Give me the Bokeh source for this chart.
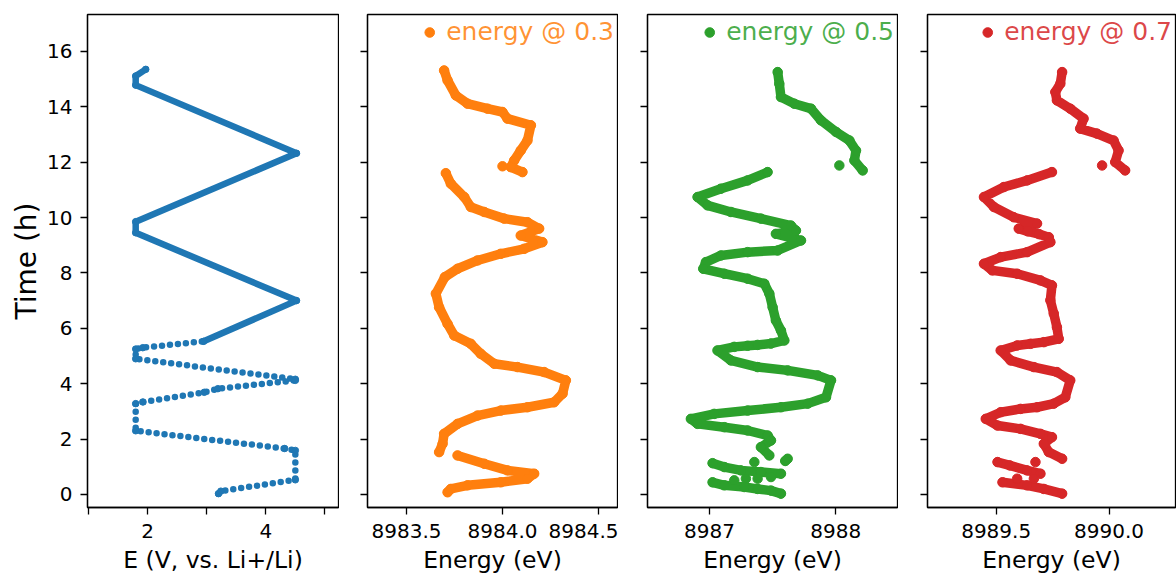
import math
from bokeh.plotting import figure
from bokeh.layouts import row
from bokeh.models import (Range1d, FixedTicker, PrintfTickFormatter, Legend, LegendItem, ColumnDataSource,
                          CustomJSTickFormatter, Title)
from bokeh.embed import file_html
from bokeh.resources import INLINE

nan = float("nan")

# ---------------- data ----------------
time_ticks = [0, 2, 4, 6, 8, 10, 12, 14, 16]

# panel 1: cell potential vs time (vertices)
cv_time = [0.03, 0.12, 0.53, 1.59, 1.66, 2.30, 3.28, 3.34, 3.69, 3.82, 4.12, 4.16, 4.90, 5.25, 5.30, 5.53,
           7.00, 9.45, 9.85, 12.32, 14.78, 15.11, 15.35]
cv_potential = [3.20, 3.24, 4.50, 4.50, 4.32, 1.80, 1.80, 1.92, 2.96, 3.19, 4.50, 4.50, 1.80, 1.80, 1.92, 2.95,
                4.52, 1.80, 1.80, 4.52, 1.80, 1.80, 1.97]
cv_major_ticks = [2, 4]
cv_minor_ticks = [1, 3, 5]

# panel 2: energy @ 0.3
t_03 = [15.31, 14.95, 14.41, 14.11, 13.93, 13.81, 13.57, 13.33, 12.78, 12.42, 12.06, 11.82, 11.64, nan,
        11.85, nan,
        11.60, 11.22, 10.74, 10.38, 10.20, 9.96, 9.83, 9.60, 9.35, 9.11, 8.87, 8.69, 8.45, 8.15, 7.85, 7.25,
        6.76, 6.16, 5.74, 5.44, 5.08, 4.72, 4.60, 4.42, 4.12, 3.64, 3.33, 3.15, 3.03, 2.85, 2.55, 2.19,
        1.83, 1.53, nan,
        1.41, 1.11, 0.87, 0.75, 0.57, 0.44, 0.33, 0.20, 0.08]
e_03 = [8983.696, 8983.714, 8983.757, 8983.818, 8983.922, 8984.000, 8984.026, 8984.148, 8984.130, 8984.095,
        8984.061, 8984.043, 8984.104, nan,
        8984.000, nan,
        8983.705, 8983.731, 8983.801, 8983.835, 8983.905, 8984.009, 8984.130, 8984.191, 8984.095, 8984.208,
        8984.113, 8983.991, 8983.870, 8983.766, 8983.700, 8983.653, 8983.670, 8983.714, 8983.749, 8983.835,
        8983.887, 8983.957, 8984.078, 8984.217, 8984.330, 8984.313, 8984.269, 8984.130, 8983.991, 8983.870,
        8983.766, 8983.696, 8983.688, 8983.670, nan,
        8983.766, 8983.905, 8984.026, 8984.165, 8984.130, 8983.991, 8983.818, 8983.731, 8983.714]
ticks_03 = [8983.5, 8984.0, 8984.5]

# panel 3: energy @ 0.5
t_05 = [15.25, 14.83, 14.35, 14.11, 13.93, 13.51, 13.09, 12.78, 12.42, 12.06, 11.70, nan,
        11.88, nan,
        11.64, 11.34, 11.04, 10.74, 10.44, 10.20, 9.96, 9.71, 9.53, 9.41, 9.17, 8.81, 8.75, 8.63, 8.39, 8.15,
        7.97, 7.79, 7.61, 7.25, 6.76, 6.28, 5.92, 5.56, 5.45, 5.40, 5.37, 5.33, 5.20, 4.84, 4.60, 4.48, 4.30,
        4.12, 3.51, 3.28, 3.15, 3.03, 2.91, 2.73, 2.55, 2.43, 2.31, 2.13, 1.95, 1.71, 1.41, nan,
        1.29, 1.21, nan, 1.17, nan,
        1.13, 0.99, 0.87, 0.81, 0.75, nan,
        0.51, nan, 0.57, nan, 0.57, nan, 0.63, nan,
        0.44, 0.33, 0.27, 0.20, 0.14, 0.03]
e_05 = [8987.540, 8987.553, 8987.566, 8987.672, 8987.804, 8987.883, 8988.003, 8988.109, 8988.161, 8988.148,
        8988.214, nan,
        8988.029, nan,
        8987.460, 8987.302, 8987.090, 8986.905, 8986.984, 8987.169, 8987.407, 8987.645, 8987.685, 8987.526,
        8987.725, 8987.540, 8987.302, 8987.090, 8986.971, 8986.950, 8987.117, 8987.302, 8987.434, 8987.474,
        8987.500, 8987.526, 8987.566, 8987.593, 8987.487, 8987.381, 8987.302, 8987.196, 8987.063, 8987.169,
        8987.381, 8987.619, 8987.857, 8987.963, 8987.923, 8987.778, 8987.566, 8987.302, 8987.037, 8986.852,
        8986.905, 8987.117, 8987.302, 8987.460, 8987.487, 8987.407, 8987.474, nan,
        8987.619, 8987.600, nan, 8987.355, nan,
        8987.024, 8987.117, 8987.249, 8987.407, 8987.566, nan,
        8987.196, nan, 8987.288, nan, 8987.381, nan, 8987.487, nan,
        8987.024, 8987.117, 8987.275, 8987.381, 8987.487, 8987.566]
ticks_05 = [8987, 8988]

# panel 4: energy @ 0.7
t_07 = [15.25, 14.83, 14.53, 14.23, 13.93, 13.57, 13.21, 13.03, 12.78, 12.42, 12.00, 11.70, nan,
        11.88, nan,
        11.64, 11.34, 11.10, 10.74, 10.38, 10.01, 9.78, 9.60, 9.50, 9.40, 9.29, 9.11, 8.75, 8.57, 8.33, 8.09,
        7.97, 7.73, 7.55, 7.01, 6.53, 6.04, 5.62, 5.50, 5.44, 5.38, 5.20, 4.84, 4.60, 4.42, 4.12, 3.51, 3.28,
        3.15, 3.09, 2.97, 2.73, 2.49, 2.37, 2.19, 2.07, 1.83, 1.53, 1.29, nan,
        1.17, nan,
        1.17, 1.05, 0.87, 0.75, nan,
        0.57, nan, 0.57, nan,
        0.44, 0.33, 0.20, 0.03]
e_07 = [8989.792, 8989.784, 8989.762, 8989.769, 8989.828, 8989.887, 8989.872, 8989.946, 8990.020, 8990.042,
        8990.027, 8990.071, nan,
        8989.969, nan,
        8989.747, 8989.637, 8989.534, 8989.446, 8989.490, 8989.578, 8989.681, 8989.600, 8989.640, 8989.690,
        8989.733, 8989.740, 8989.637, 8989.520, 8989.446, 8989.483, 8989.593, 8989.696, 8989.747, 8989.740,
        8989.755, 8989.769, 8989.777, 8989.711, 8989.652, 8989.593, 8989.520, 8989.564, 8989.667, 8989.769,
        8989.828, 8989.806, 8989.755, 8989.681, 8989.608, 8989.520, 8989.454, 8989.506, 8989.608, 8989.696,
        8989.747, 8989.711, 8989.733, 8989.792, nan,
        8989.674, nan,
        8989.506, 8989.560, 8989.637, 8989.696, nan,
        8989.593, nan, 8989.667, nan,
        8989.528, 8989.637, 8989.711, 8989.792]
ticks_07 = [8989.5, 8990.0]

BLUE, ORANGE, GREEN, RED = "#1f77b4", "#ff7f0e", "#2ca02c", "#d62728"
FONT = "DejaVu Sans"

y_range = Range1d(-0.47, 17.33)


def style(p):
    p.grid.visible = False
    p.outline_line_color = "black"
    p.outline_line_width = 1.3
    p.outline_line_alpha = 1.0
    p.background_fill_color = "white"
    p.border_fill_color = "white"
    for ax in p.axis:
        ax.axis_line_color = "black"
        ax.axis_line_width = 1.3
        ax.major_tick_out = 7
        ax.major_tick_in = 0
        ax.major_tick_line_width = 1.3
        ax.major_tick_line_color = "black"
        ax.minor_tick_line_color = None
        ax.major_label_text_font = FONT
        ax.major_label_text_font_size = "20px"
        ax.major_label_text_color = "black"
        ax.axis_label_text_font = FONT
        ax.axis_label_text_font_style = "normal"
        ax.axis_label_text_font_size = "23.5px"
        ax.axis_label_text_color = "black"
    p.yaxis.ticker = FixedTicker(ticks=time_ticks)
    p.xaxis.major_label_standoff = 9
    p.xaxis.axis_label_standoff = 5


def make_fig(width, left, xr):
    p = figure(width=width, height=578, x_range=xr, y_range=y_range,
               output_backend="svg", toolbar_location=None,
               min_border_left=left, min_border_right=1, min_border_top=14, min_border_bottom=71)
    style(p)
    return p


# panel 1
p1 = make_fig(339, 87, Range1d(0.985, 5.23))
n_sparse = 16
src_sparse = ColumnDataSource(dict(e=cv_potential[:n_sparse], t=cv_time[:n_sparse]))
src_dense = ColumnDataSource(dict(e=cv_potential[n_sparse - 1:], t=cv_time[n_sparse - 1:]))
p1.line("e", "t", source=src_sparse, line_width=6.5, line_color=BLUE, line_dash="0 8",
        line_cap="round", line_join="round")
p1.line("e", "t", source=src_dense, line_width=6.5, line_color=BLUE, line_cap="round", line_join="round")
p1.scatter("e", "t", source=ColumnDataSource(dict(e=cv_potential, t=cv_time)), size=6.5, color=BLUE)
p1.xaxis.ticker = FixedTicker(ticks=cv_major_ticks, minor_ticks=cv_minor_ticks)
p1.xaxis.minor_tick_line_color = "black"
p1.xaxis.minor_tick_line_width = 1.3
p1.xaxis.minor_tick_out = 7
p1.xaxis.minor_tick_in = 0
p1.xaxis.axis_label = "E (V, vs. Li+/Li)"
p1.yaxis.major_label_standoff = 8
p1.add_layout(Title(text="Time (h)", align="center", offset=-36, standoff=3,
                    text_font=FONT, text_font_size="28px", text_font_style="normal",
                    text_color="black"), "left")


def energy_panel(width, left, xr, e, t, color, label, ticks, fmt):
    p = make_fig(width, left, xr)
    src = ColumnDataSource(dict(e=e, t=t))
    p.line("e", "t", source=src, line_width=9.5, line_color=color, line_cap="round", line_join="round")
    r = p.scatter("e", "t", source=src, size=9.5, color=color)
    p.xaxis.ticker = FixedTicker(ticks=ticks)
    p.xaxis.formatter = PrintfTickFormatter(format=fmt)
    p.xaxis.axis_label = "Energy (eV)"
    p.yaxis.formatter = CustomJSTickFormatter(code="return ''")
    p.yaxis.major_label_standoff = 0
    leg = Legend(items=[LegendItem(label=label, renderers=[r])], location="top_right",
                 margin=0, padding=3, spacing=0, label_standoff=5, glyph_width=24, glyph_height=24,
                 label_height=24, background_fill_alpha=0, border_line_alpha=0,
                 label_text_font=FONT, label_text_font_size="25px", label_text_color=color,
                 label_text_alpha=0.85)
    p.add_layout(leg)
    return p


p2 = energy_panel(279, 28, Range1d(8983.297, 8984.599), e_03, t_03, ORANGE, "energy @ 0.3", ticks_03, "%.1f")
p3 = energy_panel(280, 29, Range1d(8986.508, 8988.49), e_05, t_05, GREEN, "energy @ 0.5", ticks_05, "%.0f")
p4 = energy_panel(278, 29, Range1d(8989.196, 8990.294), e_07, t_07, RED, "energy @ 0.7", ticks_07, "%.1f")

layout = row(p1, p2, p3, p4)
open("out.html", "w").write(file_html(layout, INLINE))
